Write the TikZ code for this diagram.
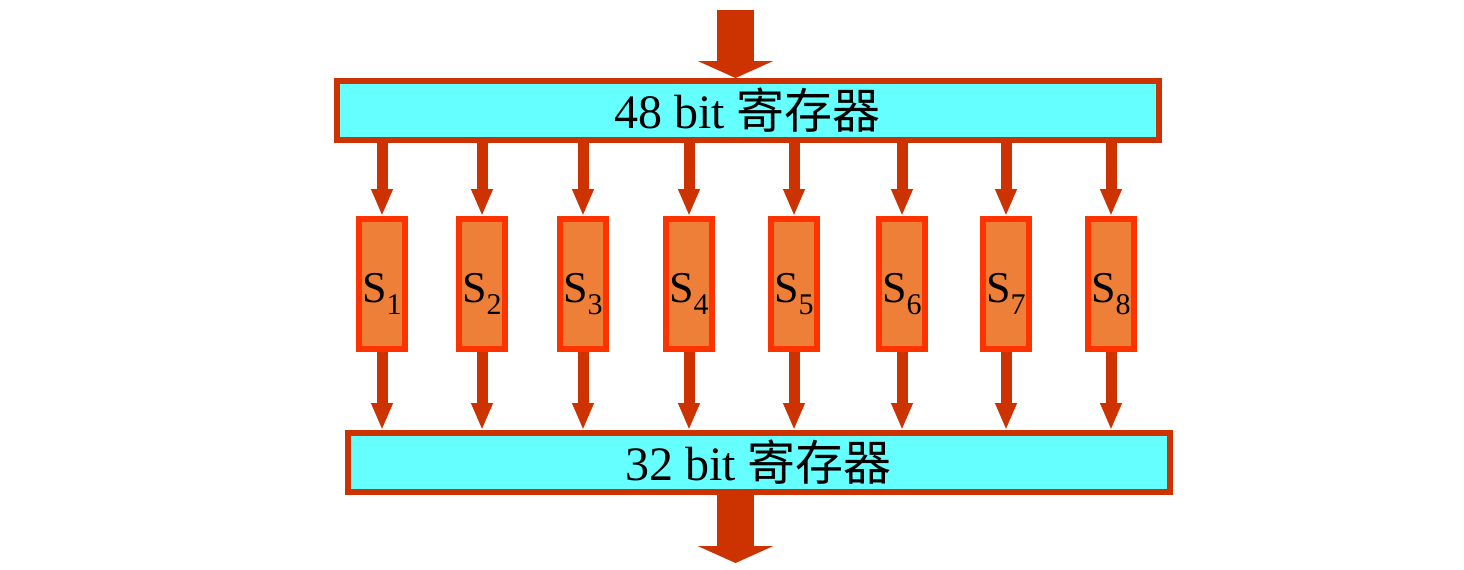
\documentclass[tikz,border=0pt]{standalone}
\usepackage{fontspec}
\setmainfont{Liberation Serif}
\newfontfamily\cjk{Noto Sans CJK SC}
\usetikzlibrary{arrows.meta}
\definecolor{regfill}{HTML}{66FFFF}
\definecolor{regline}{HTML}{CC3300}
\definecolor{boxfill}{HTML}{EE7F38}
\definecolor{boxline}{HTML}{FF3300}
\tikzset{
  reg/.style={draw=regline, fill=regfill, line width=3pt, minimum width=411pt,
    minimum height=29.5pt, inner sep=0pt, font=\fontsize{24}{28}\selectfont},
  sbox/.style={draw=boxline, fill=boxfill, line width=3pt, minimum width=23pt,
    minimum height=65pt, inner sep=0pt, text height=18pt, text depth=0pt,
    font=\fontsize{22}{26}\selectfont},
  thin arrow/.style={regline, line width=5.5pt, -{Triangle[width=10pt,length=13.5pt]}},
  fat arrow/.style={regline, line width=18.5pt, -{Triangle[width=37.5pt,length=8.5pt]}}
}
\newcommand{\subs}[1]{\raisebox{-6pt}{\fontsize{15}{15}\selectfont #1}}
\begin{document}
\begin{tikzpicture}[x=0.5pt,y=-0.5pt]
\useasboundingbox (0,0) rectangle (1464,569);
\node[reg] (r48) at (747.5,110.5) {48 bit {\cjk 寄存器}};
\node[reg] (r32) at (758.5,462.5) {32 bit {\cjk 寄存器}};
\foreach \x [count=\i] in {382,482,583,689,794,902,1006,1111}
  \node[sbox] (s\i) at (\x,284) {S\subs{\i}};
\coordinate (in) at (735.5,10);
\coordinate (out) at (735.5,563);
\draw[fat arrow] (in) -- (in |- r48.north);
\draw[fat arrow] (out |- r32.south) -- (out);
\foreach \i in {1,...,8} {
  \draw[thin arrow] (s\i.north |- r48.south) -- (s\i.north);
  \draw[thin arrow] (s\i.south) -- (s\i.south |- r32.north);
}
\end{tikzpicture}
\end{document}
